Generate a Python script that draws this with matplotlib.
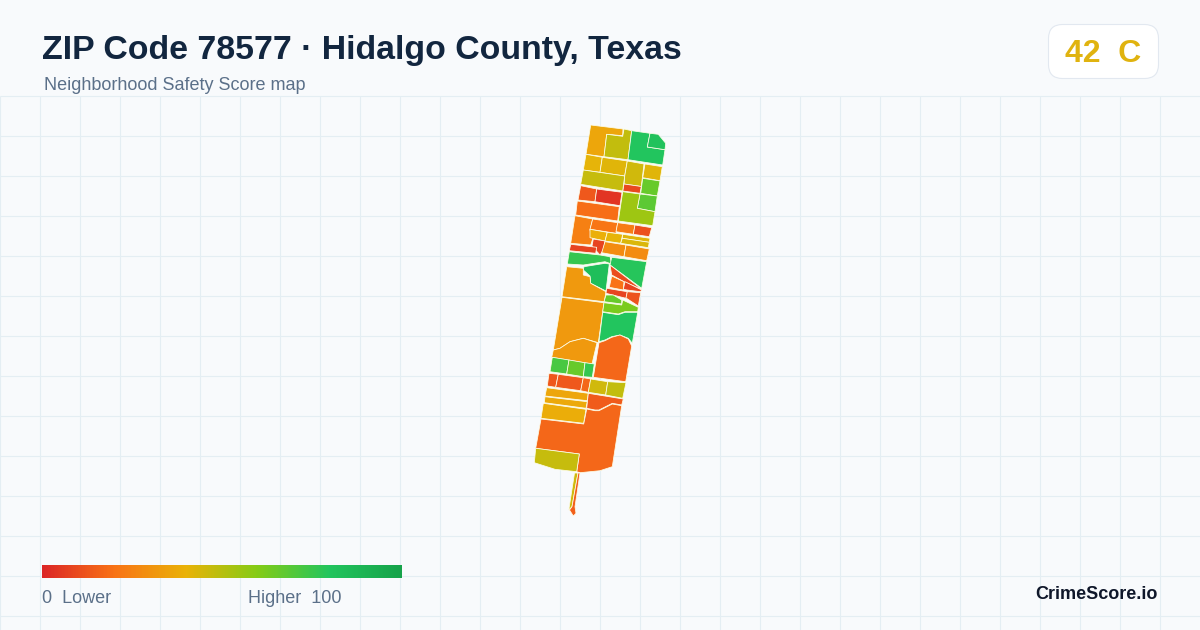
import numpy as np
import matplotlib.pyplot as plt
from matplotlib.colors import LinearSegmentedColormap, Normalize
from matplotlib.patches import FancyBboxPatch, Polygon

plt.rcParams['font.family'] = ['Liberation Sans', 'DejaVu Sans']

title = "ZIP Code 78577 · Hidalgo County, Texas"
subtitle = "Neighborhood Safety Score map"
overall_score = 42
overall_grade = "C"

# score ramp of the site
ramp_stops = [0, 20, 40, 60, 80, 100]
ramp_colors = ['#dc2626', '#f97316', '#eab308', '#84cc16', '#22c55e', '#16a34a']

# block group outlines, traced in image pixels, with the score read from each fill
tract_outlines = [
    [(590.7,125),(623,129),(622.7,135.7),(606.7,134.3),(604,156.7),(586,154.3)],
    [(606.7,134.3),(622.7,136.3),(624,129),(631.7,130.7),(628,159.7),(604,156.7)],
    [(631.7,130.7),(650,133.3),(647.3,147),(665,149.7),(662.7,165),(628,159.7)],
    [(650,133.3),(658.3,134.3),(665.7,143.3),(665,149.7),(647.3,147)],
    [(586,154.3),(602.3,157.3),(600,172.3),(583.3,170)],
    [(602.3,157.3),(627.3,161),(624.7,176),(600,172.3)],
    [(627.3,161),(644,164),(641.3,186.5),(624,184),(624.7,176)],
    [(624,184),(641.3,186.5),(640,193.3),(622.7,191)],
    [(645,164),(662.3,166.7),(660,180.7),(642.7,177.7)],
    [(583.3,170),(624.7,176),(622.7,191),(580.7,184.3)],
    [(642.7,178.3),(660,181),(657.3,196),(640.7,193.3)],
    [(640,194),(657.3,196),(655,211.7),(637.3,208.3)],
    [(622.7,191.7),(640,194),(637.3,208.3),(655,211.7),(652.7,225.7),(618.3,221)],
    [(580.7,185.7),(596.7,189),(595,201.7),(578,200)],
    [(596.7,189),(622,192.3),(620,205.7),(595,201.7)],
    [(577.3,201),(619.3,206.7),(617.7,221),(575.7,215)],
    [(575,215.7),(592.7,219),(590,230),(592.7,239),(590.7,245),(570.7,243.3)],
    [(592.7,219),(617.7,222.7),(616,233.3),(590,229.3)],
    [(617.7,222.7),(635,225),(633.3,234.3),(616,231.7)],
    [(635,225),(651.7,227.7),(649.3,236.7),(633.3,234.3)],
    [(590,229.3),(607.3,232.3),(605,241),(590,237.7)],
    [(607.3,232.3),(622.7,234.3),(620.7,243.3),(605,241)],
    [(622.7,234.3),(650,238.3),(649.3,242.3),(622.3,238.3)],
    [(622.3,238.3),(649.3,242.3),(648.3,247.7),(620.7,243.3)],
    [(593.3,239),(605,241),(603.3,250),(600,255),(592,246)],
    [(570.7,244.3),(596.7,247.3),(595.7,253.3),(569.3,250.7)],
    [(605,241.7),(626,245),(624,256.7),(601.7,252.7)],
    [(626,245),(649.3,249),(646.7,260.7),(624,256.7)],
    [(569.3,251.7),(600,255),(610,256.7),(611.7,264),(605,261.7),(583.3,265),(567.3,264)],
    [(611.7,257.3),(646.7,261.7),(641.7,288.3),(610,265)],
    [(584,266.7),(605,263.3),(609.3,264),(606,291),(590.7,283.3),(590,276),(583.3,270)],
    [(566.7,266.7),(583.3,268.3),(583.3,275),(590,276.7),(590.7,283.3),(606,291.7),(604.3,301.7),(562,296.7)],
    [(562,297.3),(604,302.7),(598.3,342.7),(583.3,338.3),(570,341.7),(560,348.3),(553.3,350)],
    [(553.3,350),(560,348.3),(570,341.7),(583.3,338.3),(597,342.7),(592,364),(551.7,357.3)],
    [(610,265),(641.7,289.3),(624,281.7),(611.7,275)],
    [(611.7,276),(624,281.7),(623.3,290),(609.3,287.3)],
    [(625,281.7),(641.7,290),(640.5,291.7),(627,290),(623.3,289.3)],
    [(606.7,288.3),(627.3,291.7),(626,298.3),(606,293.3)],
    [(627.3,291.7),(640.7,292.7),(638.3,306),(626,298)],
    [(606,295),(613.3,295),(621.7,300),(621.7,304),(604,301.7)],
    [(604,302.7),(621.7,305),(622.7,300),(638.3,307.3),(637.7,311.7),(625,311.7),(618.3,314),(602.7,311.7)],
    [(602.7,312.3),(618.3,314.7),(625,312.3),(637.7,312.3),(632.3,343.3),(628.3,338.3),(620,335),(611.7,336.7),(605,340),(599,341.7)],
    [(599,342.7),(605,340.7),(611.7,337.3),(620,335),(628.3,339),(631.7,346),(625.7,381.7),(593.3,377.3)],
    [(552.3,357.3),(569,360),(566.7,374),(550,371.7)],
    [(569,360),(585,362.7),(583.3,376.7),(566.7,374)],
    [(585,362.7),(594.3,364),(592.3,377.3),(583.3,376.7)],
    [(549,373.3),(558.3,374.3),(555.7,387.3),(547.3,386)],
    [(558.3,374.3),(583.3,377.7),(580.7,390.7),(555.7,387.3)],
    [(583.3,377.7),(590.7,379),(588.3,392.3),(580.7,390.7)],
    [(590.7,379),(607.7,381.7),(605.7,395),(588.3,392.3)],
    [(607.7,381.7),(626,382.7),(622.7,398.3),(605.7,395)],
    [(546.7,387.7),(588.3,393.3),(587.3,400.7),(545,396)],
    [(545,396.7),(587.3,401.7),(586,408.3),(544.3,402.7)],
    [(543.3,403.3),(586,409.3),(583.7,423.3),(541,418.3)],
    [(588.3,393.3),(623.3,399),(621.7,405),(612.3,403.3),(599,410),(595,410),(586.7,408.3)],
    [(586.7,409),(595,410.7),(599,410.7),(612.3,404),(621.7,405.7),(612.3,466.7),(600,470.7),(580,472.7),(576.7,471.7),(579.3,454),(535.7,448.3),(541,419),(583.7,424)],
    [(535.7,448.3),(579.3,454),(576.7,471.7),(555,469.3),(534.3,462.7)],
    [(574.5,473),(578,473),(572,506.7),(568.8,510)],
    [(578,473),(580,473),(575,506.7),(576,513.3),(573.3,516),(569.5,510),(572,506.7)],
]
tract_scores = [
    36, 48, 80, 82,
    41, 42, 45, 9, 42, 47,
    66, 68, 55, 13, 4, 19,
    24, 21, 23, 11,
    39, 41, 42, 43, 8, 8, 28, 28,
    76, 79, 84, 32, 32, 32,
    10, 20, 8, 8, 12, 66, 62, 80, 17,
    72, 66, 76, 13, 13, 17, 45, 48,
    36, 37, 38, 14, 17, 47, 45, 15,
]

cmap = LinearSegmentedColormap.from_list(
    'safety', [(s / 100, c) for s, c in zip(ramp_stops, ramp_colors)])
norm = Normalize(0, 100)

fig = plt.figure(figsize=(12, 6.3), dpi=100, facecolor='#f8fafc')
ax = fig.add_axes([0, 0, 1, 1])
ax.set_xlim(0, 1200)
ax.set_ylim(630, 0)
ax.axis('off')

# background grid below the header
ax.vlines(np.arange(0, 1200, 40), 96, 630, color='#e4eef3', lw=0.8, zorder=1)
ax.hlines(np.arange(96, 630, 40), 0, 1200, color='#e4eef3', lw=0.8, zorder=1)

for outline, score in zip(tract_outlines, tract_scores):
    ax.add_patch(Polygon(outline, closed=True, facecolor=cmap(norm(score)),
                         edgecolor='#fdfde8', lw=0.55, joinstyle='round', zorder=2))

# header
ax.text(42, 59, title, fontsize=24.4, fontweight='bold', color='#12263f',
        va='baseline', ha='left', zorder=3)
ax.text(44, 90.5, subtitle, fontsize=12.95, color='#5b7089', va='baseline', ha='left', zorder=3)

# score badge
ax.add_patch(FancyBboxPatch((1048.5, 24.5), 110, 54, boxstyle='round,pad=0,rounding_size=14',
                            facecolor='white', edgecolor='#e2e8f0', lw=0.8, zorder=3))
ax.text(1103, 62, f"{overall_score}  {overall_grade}", fontsize=23, fontweight='bold',
        color='#e0b30f', va='baseline', ha='center', zorder=4)

# legend
gradient = np.linspace(0, 100, 360).reshape(1, -1)
ax.imshow(gradient, extent=(42, 402, 578, 565), cmap=cmap, norm=norm, aspect='auto',
          interpolation='bilinear', zorder=3)
ax.set_xlim(0, 1200)
ax.set_ylim(630, 0)
ax.text(42, 603, "0  Lower", fontsize=12.95, color='#5b7089', va='baseline', ha='left', zorder=3)
ax.text(342, 603, "Higher  100", fontsize=12.95, color='#5b7089', va='baseline', ha='right', zorder=3)
ax.text(1158, 599, "CrimeScore.io", fontsize=12.95, fontweight='bold', color='#0f172a',
        va='baseline', ha='right', zorder=3)

fig.savefig('out.png', dpi=100, facecolor=fig.get_facecolor())
